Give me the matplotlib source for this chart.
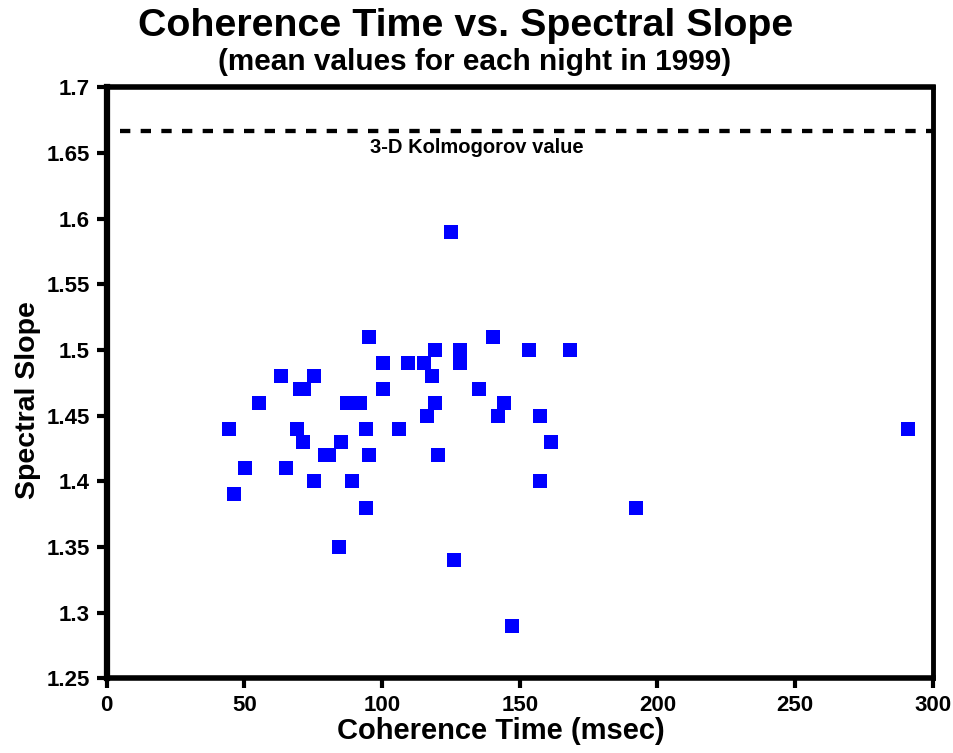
import matplotlib
matplotlib.use("Agg")
import matplotlib.pyplot as plt

plt.rcParams['font.family'] = ['Liberation Sans', 'DejaVu Sans']
plt.rcParams['font.weight'] = 'bold'

coherence_time = [44.3, 46.3, 50.3, 55.4, 63.2, 65.3, 69.3, 70.3, 71.7, 71.2,
                  75.2, 75.2, 79.3, 80.6, 84.3, 85.2, 87.3, 89.2, 92.1, 94.2,
                  94.2, 95.1, 95.1, 100.2, 100.2, 106.3, 109.3, 115.2, 116.2, 118.2,
                  119.2, 119.2, 120.2, 125.1, 126.2, 128.2, 128.2, 135.2, 140.3, 142.2,
                  144.2, 147.1, 153.2, 157.2, 157.2, 161.2, 168.2, 192.2, 291.2]
spectral_slope = [1.44, 1.39, 1.41, 1.46, 1.48, 1.41, 1.44, 1.47, 1.47, 1.43,
                  1.48, 1.40, 1.42, 1.42, 1.35, 1.43, 1.46, 1.40, 1.46, 1.44,
                  1.38, 1.51, 1.42, 1.49, 1.47, 1.44, 1.49, 1.49, 1.45, 1.48,
                  1.46, 1.50, 1.42, 1.59, 1.34, 1.50, 1.49, 1.47, 1.51, 1.45,
                  1.46, 1.29, 1.50, 1.45, 1.40, 1.43, 1.50, 1.38, 1.44]
kolmogorov = 5.0 / 3.0
x_ticks = [0, 50, 100, 150, 200, 250, 300]
y_ticks = [1.25, 1.3, 1.35, 1.4, 1.45, 1.5, 1.55, 1.6, 1.65, 1.7]
y_tick_labels = ['1.25', '1.3', '1.35', '1.4', '1.45', '1.5', '1.55', '1.6', '1.65', '1.7']

fig = plt.figure(figsize=(9.54, 7.53), dpi=100)
ax = fig.add_axes([0.1118, 0.0992, 0.9777 - 0.1118, 0.884 - 0.0992])

ax.plot(coherence_time, spectral_slope, linestyle='none', marker='s',
        markersize=9.4, color='#0000FF', markeredgewidth=0, zorder=3)

ax.plot([5, 300], [kolmogorov, kolmogorov], color='black', linewidth=3.1,
        dashes=(2.4, 2.4), zorder=2)
ax.text(134.5, 1.6545, '3-D Kolmogorov value', ha='center', va='center',
        fontsize=14.5, fontweight='bold')

ax.set_xlim(0, 300)
ax.set_ylim(1.25, 1.7)
ax.set_xticks(x_ticks)
ax.set_xticklabels([str(t) for t in x_ticks])
ax.set_yticks(y_ticks)
ax.set_yticklabels(y_tick_labels)
ax.tick_params(axis='both', direction='out', length=7, width=3, labelsize=16, pad=5)
for lab in ax.get_xticklabels() + ax.get_yticklabels():
    lab.set_fontweight('bold')

ax.spines['left'].set_linewidth(4.5)
ax.spines['bottom'].set_linewidth(4)
ax.spines['top'].set_linewidth(4)
ax.spines['right'].set_linewidth(3.5)

ax.set_xlabel('Coherence Time (msec)', fontsize=21, fontweight='bold',
              ha='center', va='center')
ax.xaxis.set_label_coords(0.477, -0.089)
ax.set_ylabel('Spectral Slope', fontsize=20.5, fontweight='bold',
              ha='center', va='center')
ax.yaxis.set_label_coords(-0.0953, 0.471)

fig.text(0.488, 0.965, 'Coherence Time vs. Spectral Slope', ha='center', va='center',
         fontsize=28.4, fontweight='bold')
fig.text(0.497, 0.918, '(mean values for each night in 1999)', ha='center', va='center',
         fontsize=21.4, fontweight='bold')

fig.savefig('out.png', dpi=100)
